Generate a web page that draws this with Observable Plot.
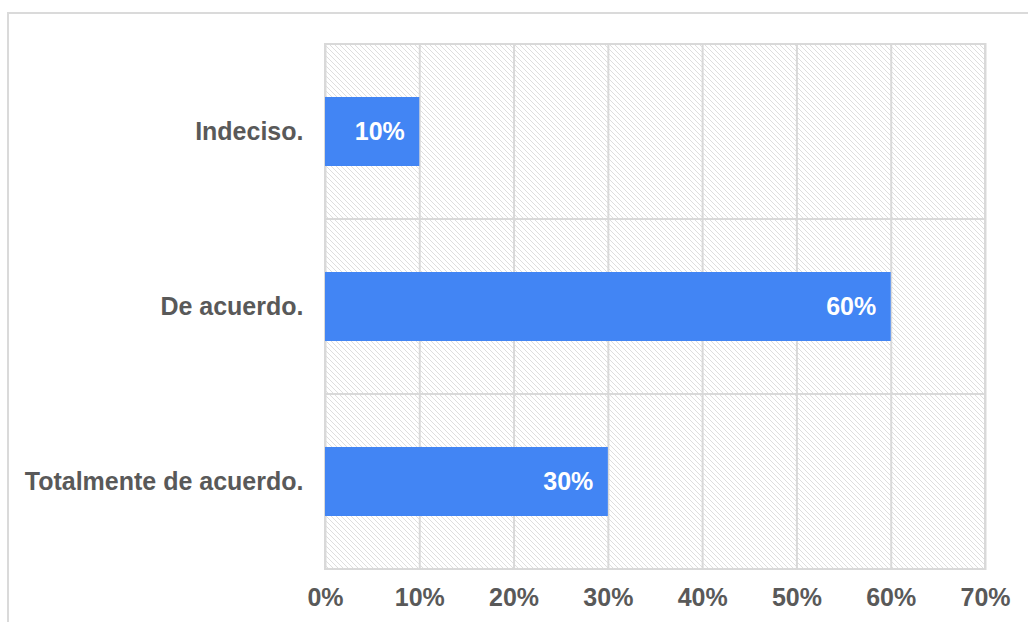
<!DOCTYPE html>
<html>
<head>
<meta charset="utf-8">
<script src="https://cdn.jsdelivr.net/npm/d3@7"></script>
<script src="https://cdn.jsdelivr.net/npm/@observablehq/plot@0.6"></script>
<style>
  html, body { margin: 0; padding: 0; background: #fff; overflow: hidden; }
  #wrap { position: relative; width: 1028px; height: 622px; }
  #border { position: absolute; left: 7px; top: 12px; width: 1100px; height: 700px;
            border-top: 2px solid #dadada; border-left: 2px solid #dadada; }
  #chart { position: absolute; left: 0; top: 0; }
  svg { font-family: "Liberation Sans", Arial, sans-serif; }
</style>
</head>
<body>
<div id="wrap"><div id="border"></div><div id="chart"></div></div>
<script>
const categories = ["Indeciso.", "De acuerdo.", "Totalmente de acuerdo."];
const values = [0.10, 0.60, 0.30];
const xTicks = [0, 0.1, 0.2, 0.3, 0.4, 0.5, 0.6, 0.7];

const data = categories.map((c, i) => ({category: c, value: values[i]}));
const bg = categories.map(c => ({category: c, x1: 0, x2: 0.7}));

const chart = Plot.plot({
  width: 1028,
  height: 622,
  marginLeft: 325,
  marginRight: 43,
  marginTop: 43,
  marginBottom: 52,
  style: {fontFamily: '"Liberation Sans", Arial, sans-serif', background: "transparent"},
  x: {domain: [0, 0.7], ticks: xTicks, tickFormat: d3.format(".0%"), label: null},
  y: {domain: categories, padding: 0, label: null},
  marks: [
    Plot.barX(bg, {y: "category", x1: "x1", x2: "x2", fill: "url(#hatch)", stroke: "#d9d9d9", strokeWidth: 2}),
    Plot.gridX(xTicks, {stroke: "#d9d9d9", strokeOpacity: 1, strokeWidth: 2}),
    Plot.barX(data, {y: "category", x: "value", fill: "#4285F4", insetTop: 53, insetBottom: 53}),
    Plot.text(data, {y: "category", x: "value", text: d => d3.format(".0%")(d.value), textAnchor: "end", dx: -15,
      fill: "white", fontSize: 25, fontWeight: "bold"}),
    Plot.axisX(xTicks, {tickSize: 0, tickPadding: 18, fontSize: 25, fontWeight: "bold", fill: "#595959", label: null, tickFormat: d3.format(".0%")}),
    Plot.axisY({tickSize: 0, tickPadding: 22, fontSize: 25, fontWeight: "bold", fill: "#595959", label: null})
  ]
});

const defs = d3.select(chart).insert("defs", ":first-child");
const pat = defs.append("pattern").attr("id", "hatch").attr("patternUnits", "userSpaceOnUse")
  .attr("width", 5).attr("height", 5);
pat.append("rect").attr("width", 5).attr("height", 5).attr("fill", "white");
pat.append("path").attr("d", "M-1,-1 L6,6 M-1,4 L1,6 M4,-1 L6,1").attr("stroke", "#dedede").attr("stroke-width", 1);

document.getElementById("chart").appendChild(chart);
</script>
</body>
</html>
